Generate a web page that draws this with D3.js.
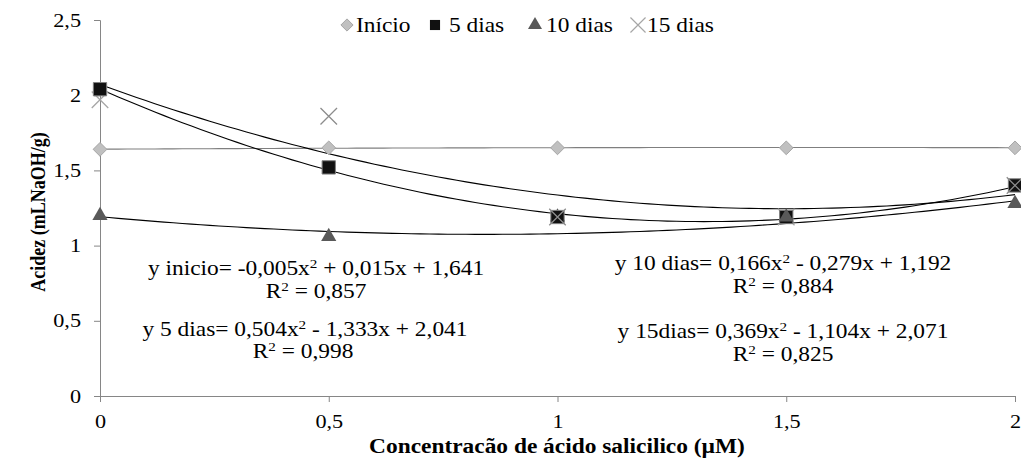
<!DOCTYPE html>
<html><head><meta charset="utf-8">
<script src="https://cdn.jsdelivr.net/npm/d3@7"></script>
</head><body style="margin:0;background:#fff">
<svg id="c" width="1021" height="458" font-family="Liberation Serif"></svg>
<script>
const xValues = [0, 0.5, 1, 1.5, 2];
const inicio = [1.64, 1.65, 1.65, 1.65, 1.65];
const dias5 = [2.04, 1.52, 1.19, 1.19, 1.40];
const dias10 = [1.20, 1.06, 1.19, 1.19, 1.28];
const dias15 = [1.97, 1.86, 1.19, 1.19, 1.40];
const coefInicio = [-0.005, 0.015, 1.641];
const coef5 = [0.504, -1.333, 2.041];
const coef10 = [0.166, -0.279, 1.192];
const coef15 = [0.369, -1.104, 2.071];
const xTicks = [0, 0.5, 1, 1.5, 2];
const yTicks = [0, 0.5, 1, 1.5, 2, 2.5];
const seriesNames = ["Início", "5 dias", "10 dias", "15 dias"];

const FONT = "Liberation Serif";
const SX = 1.17;
const svg = d3.select("#c");
const x = d3.scaleLinear().domain([0, 2]).range([100, 1015]);
const y = d3.scaleLinear().domain([0, 2.5]).range([396, 20]);
const fmt = d => String(d).replace(".", ",");
const axisColor = "#868686";

// axes
const gy = svg.append("g").attr("transform", "translate(100,0)")
  .call(d3.axisLeft(y).tickValues(yTicks).tickSize(6).tickPadding(12).tickFormat(fmt));
const gx = svg.append("g").attr("transform", "translate(0,396)")
  .call(d3.axisBottom(x).tickValues(xTicks).tickSize(6).tickPadding(13).tickFormat(fmt));
[gx, gy].forEach(g => {
  g.attr("font-family", FONT).attr("font-size", 19);
  g.select(".domain").attr("stroke", axisColor);
  g.selectAll(".tick line").attr("stroke", axisColor);
});
gy.selectAll(".tick text").attr("fill", "#000").attr("x", 0).attr("transform", `translate(-19,0) scale(${SX},1)`);
gx.selectAll(".tick text").attr("fill", "#000");
gx.selectAll(".tick text").each(function() {
  const t = d3.select(this); const yy = +t.attr("y");
  t.attr("y", 0).attr("transform", `translate(0,${yy}) scale(${SX},1)`);
});

// trendlines
const xs = d3.range(0, 2.0001, 0.02);
const poly = c => v => c[0]*v*v + c[1]*v + c[2];
const line = f => d3.line().x(d => x(d)).y(d => y(f(d)))(xs);
[[coefInicio, "#7f7f7f"], [coef5, "#000"], [coef10, "#000"], [coef15, "#000"]].forEach(([c, col]) => {
  svg.append("path").attr("d", line(poly(c))).attr("fill", "none").attr("stroke", col).attr("stroke-width", 1.1);
});

// markers
const diamond = d3.symbol().type(d3.symbolDiamond2).size(120);
const square = d3.symbol().type(d3.symbolSquare2).size(225);
const tri = d3.symbol().type(d3.symbolTriangle).size(100);
const cross = d3.symbol().type(d3.symbolX).size(180);

function draw(g, vals, sym, fill, stroke, sw, keep) {
  g.selectAll(null).data(vals.map((v, i) => ({v, i})).filter(d => keep(d.i))).join("path").attr("d", sym)
    .attr("transform", d => `translate(${x(xValues[d.i])},${y(d.v)})`)
    .attr("fill", fill).attr("stroke", stroke).attr("stroke-width", sw);
}
const all = () => true;
draw(svg.append("g"), inicio, diamond, "#c0c0c0", "#a6a6a6", 1, all);
draw(svg.append("g"), dias10, tri, "#595959", "none", 0, i => i === 2);
draw(svg.append("g"), dias15, cross, "none", "#a6a6a6", 1.3, i => i === 3 || i === 0);
draw(svg.append("g"), dias5, square, "#111", "#808080", 1, all);
draw(svg.append("g"), dias10, tri, "#595959", "none", 0, i => i !== 2);
draw(svg.append("g"), dias15, cross, "none", "#8c8c8c", 1.3, i => i !== 3 && i !== 0);

// stretched text helper
function stext(cx, cy, anchor, size, weight) {
  return svg.append("g").attr("transform", `translate(${cx},${cy}) scale(${SX},1)`)
    .append("text").attr("text-anchor", anchor).attr("font-family", FONT)
    .attr("font-size", size).attr("font-weight", weight || "normal").attr("fill", "#000");
}
function eq(cx, cy, parts) {
  const t = stext(cx, cy, "middle", 20);
  parts.forEach(p => {
    if (p.sup) t.append("tspan").attr("dy", -7).attr("font-size", 13).text(p.sup);
    else if (p.down) t.append("tspan").attr("dy", 7).text(p.t);
    else t.append("tspan").text(p.t);
  });
}
eq(316, 275, [{t:"y inicio= -0,005x"}, {sup:"2"}, {down:true, t:" + 0,015x + 1,641"}]);
eq(316, 298, [{t:"R"}, {sup:"2"}, {down:true, t:" = 0,857"}]);
eq(305, 336, [{t:"y 5 dias= 0,504x"}, {sup:"2"}, {down:true, t:" - 1,333x + 2,041"}]);
eq(303, 358, [{t:"R"}, {sup:"2"}, {down:true, t:" = 0,998"}]);
eq(783, 270, [{t:"y 10 dias= 0,166x"}, {sup:"2"}, {down:true, t:" - 0,279x + 1,192"}]);
eq(783, 293, [{t:"R"}, {sup:"2"}, {down:true, t:" = 0,884"}]);
eq(783, 338, [{t:"y 15dias= 0,369x"}, {sup:"2"}, {down:true, t:" - 1,104x + 2,071"}]);
eq(783, 361, [{t:"R"}, {sup:"2"}, {down:true, t:" = 0,825"}]);

// axis titles
svg.append("g").attr("transform", `translate(45,212) rotate(-90) scale(1,${SX})`)
  .append("text").attr("text-anchor", "middle").attr("font-family", FONT).attr("font-size", 18)
  .attr("font-weight", "bold").text("Acidez  (mLNaOH/g)");
stext(557, 453, "middle", 20, "bold").text("Concentracão de ácido salicilico (µM)");

// legend
const lg = svg.append("g");
const legendX = [347, 435, 535, 638];
const legendTextX = [356, 449, 546, 647];
const ly = 25;
lg.append("path").attr("d", d3.symbol().type(d3.symbolDiamond2).size(95)).attr("transform", `translate(${legendX[0]},${ly})`).attr("fill", "#c0c0c0").attr("stroke", "#a6a6a6");
lg.append("path").attr("d", d3.symbol().type(d3.symbolSquare2).size(130)).attr("transform", `translate(${legendX[1]},${ly})`).attr("fill", "#111");
lg.append("path").attr("d", d3.symbol().type(d3.symbolTriangle).size(85)).attr("transform", `translate(${legendX[2]},${ly})`).attr("fill", "#595959");
lg.append("path").attr("d", d3.symbol().type(d3.symbolX).size(150)).attr("transform", `translate(${legendX[3]},${ly})`).attr("fill", "none").attr("stroke", "#a6a6a6").attr("stroke-width", 1.2);
seriesNames.forEach((n, i) => {
  lg.append("g").attr("transform", `translate(${legendTextX[i]},${ly + 7}) scale(${SX},1)`)
    .append("text").attr("font-family", FONT).attr("font-size", 20).text(n);
});
</script>
</body></html>
